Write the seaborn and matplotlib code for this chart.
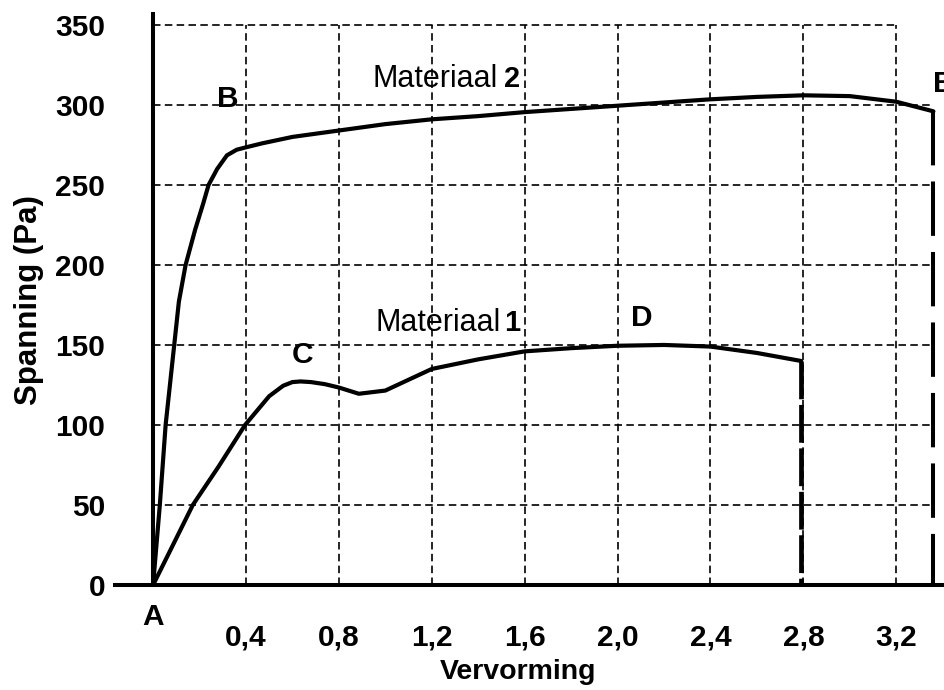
import matplotlib
matplotlib.use("Agg")
import matplotlib.pyplot as plt
import seaborn as sns
import pandas as pd

# ---- data ----
mat2_x = [0, 0.029, 0.054, 0.091, 0.111, 0.14, 0.181, 0.215, 0.239, 0.276, 0.318, 0.36, 0.4, 0.47,
          0.6, 0.8, 1.0, 1.2, 1.4, 1.6, 1.8, 2.0, 2.2, 2.4, 2.6, 2.8, 3.0, 3.2, 3.36]
mat2_y = [0, 50, 100, 150, 177, 200, 222, 238, 250, 260, 268.5, 272, 273.5, 276,
          280, 284, 288, 291, 293, 295.5, 297.5, 299.5, 301.5, 303.5, 305, 306, 305.5, 302, 296]

mat1_x = [0, 0.089, 0.171, 0.282, 0.396, 0.5, 0.56, 0.60, 0.635, 0.68, 0.74, 0.8, 0.886, 1.0,
          1.2, 1.4, 1.6, 1.8, 2.0, 2.2, 2.4, 2.6, 2.79]
mat1_y = [0, 26, 50, 74, 100, 118, 124.5, 126.8, 127.2, 126.8, 125.5, 123.4, 119.5, 121.5,
          135, 141, 146, 148, 149.5, 150, 149, 145, 140]

x_ticks = [0.4, 0.8, 1.2, 1.6, 2.0, 2.4, 2.8, 3.2]
x_tick_labels = ["0,4", "0,8", "1,2", "1,6", "2,0", "2,4", "2,8", "3,2"]
y_ticks = [0, 50, 100, 150, 200, 250, 300, 350]
y_tick_labels = ["0", "50", "100", "150", "200", "250", "300", "350"]

point_labels = ["A", "B", "C", "D", "E"]
point_x = [0.0, 0.323, 0.642, 2.106, 3.359]
point_y = [-20, 304, 143.5, 166.6, 313]

# ---- style ----
sns.set_style("white")
plt.rcParams["font.family"] = ["Liberation Sans", "DejaVu Sans"]
plt.rcParams["text.color"] = "black"
plt.rcParams["axes.labelcolor"] = "black"
plt.rcParams["xtick.color"] = "black"
plt.rcParams["ytick.color"] = "black"

FS = 21.5

fig = plt.figure(figsize=(9.45, 6.9), dpi=100)
ax = fig.add_axes([115 / 945, 105 / 690, 830 / 945, 571.3 / 690])

df1 = pd.DataFrame({"x": mat1_x, "y": mat1_y})
df2 = pd.DataFrame({"x": mat2_x, "y": mat2_y})

# grid (dashed)
grid_kw = dict(colors="black", linewidth=1.2, linestyles=(0, (4.5, 2.6)), zorder=1)
end1 = mat1_x[-1]
end2 = mat2_x[-1]
ax.hlines([v for v in y_ticks if 0 < v < 350], 0, end2, **grid_kw)
ax.hlines([350], 0, 3.2, **grid_kw)
ax.vlines(x_ticks, 0, 350, **grid_kw)

# curves
sns.lineplot(data=df2, x="x", y="y", sort=False, estimator=None, color="black",
             linewidth=3.0, ax=ax, zorder=3)
sns.lineplot(data=df1, x="x", y="y", sort=False, estimator=None, color="black",
             linewidth=3.0, ax=ax, zorder=3)
for ln in ax.lines:
    ln.set_solid_joinstyle("round")
    ln.set_solid_capstyle("round")

# end drop lines
ax.plot([end1, end1], [mat1_y[-1], 0], color="black", linewidth=3.4,
        linestyle=(0, (8, 1.2)), zorder=3)
ax.plot([end2, end2], [mat2_y[-1], 0], color="black", linewidth=2.9,
        linestyle=(0, (13.5, 4)), zorder=3)

ax.set_xlim(-0.164, 3.41)
ax.set_ylim(0, 357)

# spines
for s in ["top", "right"]:
    ax.spines[s].set_visible(False)
ax.spines["left"].set_position(("data", 0))
ax.spines["left"].set_linewidth(2.9)
ax.spines["bottom"].set_linewidth(2.9)
ax.spines["left"].set_color("black")
ax.spines["bottom"].set_color("black")

ax.set_xticks(x_ticks)
ax.set_xticklabels(x_tick_labels, fontsize=FS, fontweight="bold")
ax.set_yticks(y_ticks)
ax.set_yticklabels(y_tick_labels, fontsize=FS, fontweight="bold")
ax.tick_params(axis="y", direction="out", length=27.5, width=3.6, pad=7)
ax.tick_params(axis="x", direction="out", length=25, width=2.9, pad=3)

ax.set_xlabel("Vervorming", fontsize=20.5, fontweight="bold")
ax.set_ylabel("Spanning (Pa)", fontsize=22.5, fontweight="bold")
ax.xaxis.set_label_coords(0.4855, -0.129)
ax.yaxis.set_label_coords(-0.086, 0.499)

# curve names
ax.text(0.943, 316.3, "Materiaal", fontsize=22, ha="left", va="center")
ax.text(1.512, 316.3, "2", fontsize=21, fontweight="bold", ha="left", va="center")
ax.text(0.956, 164, "Materiaal", fontsize=22, ha="left", va="center")
ax.text(1.512, 164, "1", fontsize=21, fontweight="bold", ha="left", va="center")

# point labels
for lab, px, py in zip(point_labels, point_x, point_y):
    ha = "left" if lab == "E" else "center"
    ax.text(px, py, lab, fontsize=FS, fontweight="bold", ha=ha, va="center",
            clip_on=False)

fig.savefig("out.png", dpi=100)
